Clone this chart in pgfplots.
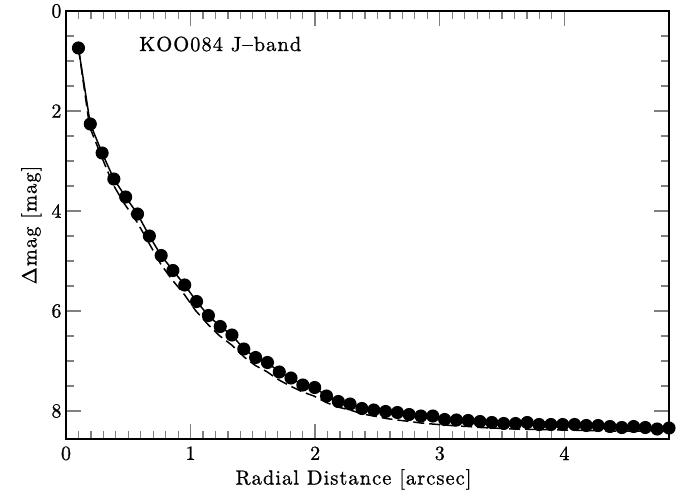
\documentclass[border=0pt]{standalone}
\usepackage{fontspec}
\setmainfont{lmroman10-regular}[Extension=.otf, LetterSpace=5, FakeBold=0.9]
\usepackage{pgfplots}
\pgfplotsset{compat=1.18}
\begin{document}
\begin{tikzpicture}
\begin{axis}[name=ax,
  scale only axis, width=603pt, height=428pt,
  xmin=0, xmax=4.84, ymin=0, ymax=8.56, y dir=reverse,
  xtick={0,1,2,3,4}, ytick={0,2,4,6,8},
  minor x tick num=9, minor y tick num=3,
  /pgf/number format/assume math mode=true,
  tick align=inside, axis line style={line width=1.6pt},
  major tick style={line width=1.4pt}, minor tick style={line width=1.2pt},
  major tick length=15pt, minor tick length=8pt,
  xticklabel style={font=\fontsize{20}{24}\selectfont, yshift=-4pt},
  yticklabel style={font=\fontsize{20}{24}\selectfont, xshift=-1pt},
  xlabel={Radial Distance [arcsec]}, ylabel={Δmag [mag]},
  label style={font=\fontsize{20.5}{24}\selectfont},
  xlabel style={yshift=-2pt, xshift=-14pt}, ylabel style={yshift=3pt},
  clip=false,
]
\addplot[black, line width=1.5pt, dash pattern=on 11pt off 5pt] coordinates {
(0.10,0.74)(0.19,2.32)(0.29,2.94)(0.38,3.48)(0.47,3.86)(0.57,4.22)(0.67,4.66)(0.76,5.06)(0.85,5.37)(0.95,5.67)
(1.04,5.99)(1.14,6.27)(1.23,6.49)(1.33,6.68)(1.43,6.92)(1.52,7.09)(1.61,7.21)(1.71,7.38)(1.80,7.50)(1.90,7.62)
(1.99,7.70)(2.09,7.83)(2.18,7.92)(2.28,7.98)(2.38,8.06)(2.47,8.10)(2.57,8.15)(2.66,8.18)(2.76,8.21)(2.85,8.24)
(2.94,8.26)(3.04,8.28)(3.14,8.30)(3.23,8.31)(3.33,8.33)(3.42,8.34)(3.60,8.36)(3.80,8.37)(4.00,8.38)(4.20,8.39)
(4.40,8.40)(4.60,8.40)(4.84,8.41)};
\addplot[black, line width=1.5pt, mark=*, mark size=5.8pt] coordinates {
(0.100,0.74)(0.195,2.26)(0.290,2.84)(0.384,3.36)(0.479,3.72)(0.574,4.06)(0.669,4.50)(0.764,4.89)(0.858,5.19)(0.953,5.48)
(1.048,5.81)(1.143,6.09)(1.238,6.31)(1.332,6.48)(1.427,6.76)(1.522,6.93)(1.617,7.03)(1.712,7.22)(1.806,7.34)(1.901,7.48)
(1.996,7.53)(2.091,7.70)(2.186,7.81)(2.280,7.86)(2.375,7.95)(2.470,7.98)(2.565,8.01)(2.660,8.03)(2.754,8.07)(2.849,8.10)
(2.944,8.10)(3.039,8.17)(3.134,8.18)(3.228,8.19)(3.323,8.21)(3.418,8.23)(3.513,8.25)(3.608,8.25)(3.702,8.23)(3.797,8.27)
(3.892,8.27)(3.987,8.27)(4.082,8.27)(4.176,8.29)(4.271,8.29)(4.366,8.31)(4.461,8.33)(4.556,8.31)(4.650,8.33)(4.745,8.36)
(4.840,8.34)};
\node[anchor=west, font=\fontsize{20.5}{24}\selectfont] at (axis cs:0.56,0.66) {KOO084 J--band};
\end{axis}
\pgfresetboundingbox
\path[use as bounding box] ([shift={(-66pt,-57pt)}]ax.south west) rectangle ([shift={(12pt,11pt)}]ax.north east);
\end{tikzpicture}
\end{document}
